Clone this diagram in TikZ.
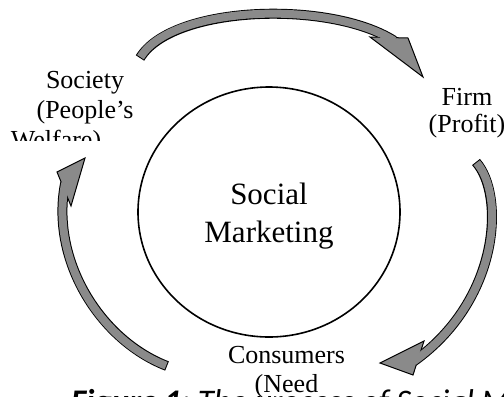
\documentclass[tikz,border=0pt]{standalone}
\usepackage{fontspec}
\setmainfont{Liberation Serif}
\newfontfamily\capfont{Carlito}
\definecolor{arrowgray}{RGB}{138,138,138}
\tikzset{
  lbl/.style={font=\fontsize{26bp}{30bp}\selectfont, inner sep=0pt, anchor=base},
  big/.style={font=\fontsize{31bp}{37bp}\selectfont, inner sep=0pt, anchor=base},
  shaftout/.style={line width=10bp, draw=black, line cap=butt, shorten >=-6bp},
  shaftin/.style={line width=8bp, draw=arrowgray, line cap=butt, shorten >=-6bp, shorten <=1bp},
  headshape/.style={fill=arrowgray, draw=black, line width=1bp, line join=miter},
}
\begin{document}
\begin{tikzpicture}[x=1bp,y=-1bp]
\useasboundingbox (0,0) rectangle (504,396);
\begin{scope}
\clip (0,0) rectangle (504,396);

% central circle
\draw[line width=1.6bp] (269,212) ellipse [x radius=131, y radius=125];
\node[big] (social) at (269,204) {Social};
\node[big] (marketing) at (269,242) {Marketing};

% labels
\begin{scope}
  \clip (0,0) rectangle (200,140);
  \node[lbl] (soc1) at (85,88) {Society};
  \node[lbl] (soc2) at (85,118) {(People’s};
  \node[lbl] (soc3) at (56,148) {Welfare)};
\end{scope}
\node[lbl] (firm1) at (467,105) {Firm};
\node[lbl] (firm2) at (467,132) {(Profit)};
\node[lbl] (cons1) at (286.5,363) {Consumers};

% caption (mostly below the page edge, partly hidden)
\node[anchor=base west, inner sep=0pt, font=\capfont\fontsize{33bp}{38bp}\selectfont] (caption) at (71,412)
  {\bfseries\itshape Figure 1:\mdseries\ The Process of Social Marketing};
\fill[white] (257,371) rectangle (360,396);
\node[lbl] (cons2) at (286.5,392) {(Need};

% top arrow
\draw[shaftout] (140,58) .. controls (172,5) and (330,0) .. (389,37.5);
\filldraw[headshape] (370,37) -- (423,77) -- (408,38) -- cycle;
\draw[shaftin] (140,58) .. controls (172,5) and (330,0) .. (389,37.5);

% right arrow
\draw[shaftout] (476,162) .. controls (505,195) and (500,300) .. (418.5,358);
\filldraw[headshape] (424,341) -- (380,363) -- (413,375) -- cycle;
\draw[shaftin] (476,162) .. controls (505,195) and (500,300) .. (418.5,358);

% left arrow
\draw[shaftout] (167,366) .. controls (100,340) and (50,260) .. (64,189);
\filldraw[headshape] (57,172) -- (85,158) -- (71,206) -- cycle;
\draw[shaftin] (167,366) .. controls (100,340) and (50,260) .. (64,189);
\end{scope}
\end{tikzpicture}
\end{document}
